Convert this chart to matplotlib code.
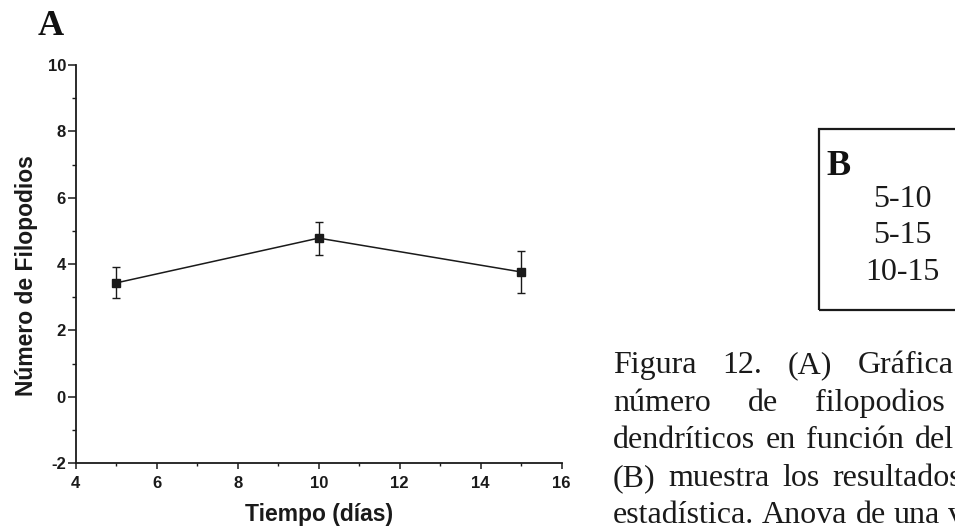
import matplotlib
matplotlib.use("Agg")
import matplotlib.pyplot as plt
from matplotlib.ticker import MultipleLocator
from matplotlib.patches import Rectangle

# Filopodia count over time (mean with error bars)
days = [5, 10, 15]
filopodia_mean = [3.43, 4.78, 3.76]
filopodia_err = [0.47, 0.50, 0.62]

x_ticks = [4, 6, 8, 10, 12, 14, 16]
y_ticks = [-2, 0, 2, 4, 6, 8, 10]

panel_a_label = "A"
panel_b_label = "B"
x_title = "Tiempo (días)"
y_title = "Número de Filopodios"

# Pairwise comparisons listed in panel B
comparisons = ["5-10", "5-15", "10-15"]

# Caption, one list of words per line
caption_lines = [
    ["Figura", "12.", "(A)", "Gráfica"],
    ["número", "de", "filopodios"],
    ["dendríticos", "en", "función", "del"],
    ["(B)", "muestra", "los", "resultados"],
    ["estadística.", "Anova", "de", "una", "vía"],
]
# justified line extents (px): start, end of the n-th word
caption_start = 613
caption_end = [954, 945, 954, 962, 940]
caption_justify_upto = [4, 3, 4, 4, 4]
caption_baselines = [373, 411, 448, 486, 523]

W, H = 955, 528
SANS = "Liberation Sans"
SERIF = "Liberation Serif"
INK = "#1a1a1a"

plt.rcParams["font.family"] = SANS
plt.rcParams["font.weight"] = "bold"
plt.rcParams["axes.unicode_minus"] = False


def fx(px):
    return px / W


def fy(py):
    return 1 - py / H


fig = plt.figure(figsize=(W / 100, H / 100), dpi=100)
fig.patch.set_facecolor("white")

ax = fig.add_axes([fx(75.7), fy(463), fx(561.7) - fx(75.7), fy(65) - fy(463)])
ax.errorbar(days, filopodia_mean, yerr=filopodia_err, color=INK,
            marker="s", markersize=6, linewidth=1.1, elinewidth=1.0,
            capsize=3.2, capthick=1.0)

ax.set_xlim(x_ticks[0], x_ticks[-1])
ax.set_ylim(y_ticks[0], y_ticks[-1])
ax.set_xticks(x_ticks)
ax.set_yticks(y_ticks)
ax.xaxis.set_minor_locator(MultipleLocator(1))
ax.yaxis.set_minor_locator(MultipleLocator(1))

for side in ("top", "right"):
    ax.spines[side].set_visible(False)
for side in ("left", "bottom"):
    ax.spines[side].set_linewidth(1.3)
    ax.spines[side].set_color(INK)

ax.tick_params(axis="both", which="both", labelsize=12, labelcolor=INK,
               color=INK)
ax.tick_params(axis="y", which="major", direction="out", length=5.5, width=1.1,
               pad=1.5)
ax.tick_params(axis="y", which="minor", direction="out", length=3, width=1.0)
ax.tick_params(axis="x", which="major", direction="out", length=4.5, width=1.1,
               pad=4.5)
ax.tick_params(axis="x", which="minor", direction="out", length=2.5, width=1.0)

# Axis titles
fig.text(fx(319), fy(521), x_title, family=SANS, weight="bold", fontsize=16.5,
         ha="center", va="baseline", color=INK)
fig.text(fx(26), fy(276), y_title, family=SANS, weight="bold", fontsize=16.5,
         ha="center", va="center", rotation=90, color=INK)

# Panel letters
fig.text(fx(38), fy(35), panel_a_label, family=SERIF, weight="bold",
         fontsize=26, ha="left", va="baseline", color="#111111")

# Panel B box with comparisons
box = Rectangle((fx(819), fy(310)), fx(W + 20) - fx(819), fy(129) - fy(310),
                transform=fig.transFigure, fill=False, edgecolor=INK,
                linewidth=1.6, clip_on=False)
fig.patches.append(box)
fig.text(fx(826), fy(175), panel_b_label, family=SERIF, weight="bold",
         fontsize=26, ha="left", va="baseline", color="#111111")
for label, base in zip(comparisons, [207, 243, 280]):
    fig.text(fx(902), fy(base), label, family=SERIF, weight="normal",
             fontsize=23, ha="center", va="baseline", color=INK)

# Caption, justified word by word
renderer = fig.canvas.get_renderer()
for words, end, n, base in zip(caption_lines, caption_end,
                               caption_justify_upto, caption_baselines):
    texts = [fig.text(0, fy(base), w, family=SERIF, weight="normal",
                      fontsize=23, ha="left", va="baseline", color=INK)
             for w in words]
    widths = [t.get_window_extent(renderer).width for t in texts]
    gap = (end - caption_start - sum(widths[:n])) / max(n - 1, 1)
    x = caption_start
    for t, w in zip(texts, widths):
        t.set_x(fx(x))
        x += w + gap

fig.savefig("out.png", dpi=100, facecolor="white")
